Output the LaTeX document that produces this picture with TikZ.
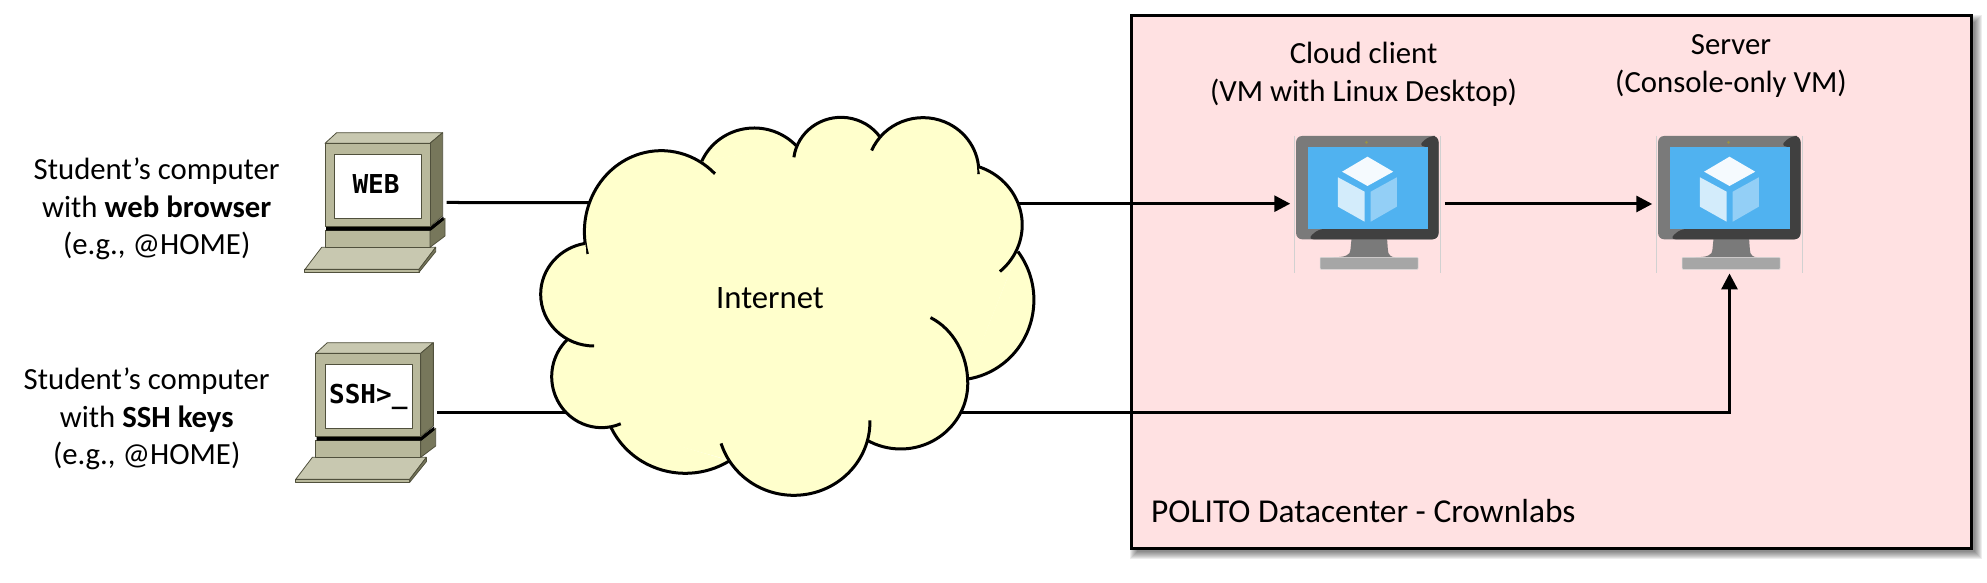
\documentclass[tikz,border=0pt]{standalone}
\usepackage{fontspec}
\setmainfont{Carlito}
\newfontfamily\pcfont{DejaVu Sans Mono}
\usetikzlibrary{
	arrows.meta,
	positioning
}
\definecolor{dcpink}{HTML}{FFE1E2}
\definecolor{cloudyellow}{HTML}{FFFFCC}
\definecolor{pcfront}{HTML}{B9B99C}
\definecolor{pctop}{HTML}{C8C8B0}
\definecolor{pcside}{HTML}{77775B}
\definecolor{pcline}{HTML}{50503C}
\definecolor{vmgrey}{HTML}{7A7A7A}
\definecolor{vmdark}{HTML}{404040}
\definecolor{vmblue}{HTML}{50B2F0}
\newcommand{\lobearc}[6]{\draw[lobe] (#1,#2) ++(#5:#3 and #4) arc[start angle=#5,end angle=#6,x radius=#3,y radius=#4];}

\begin{document}
\begin{tikzpicture}[
	x=.01cm, y=-.01cm,
	datacenter/.style = {
		rectangle,
		draw,
		line width=.03cm,
		fill=dcpink,
		minimum width=8.4cm,
		minimum height=5.33cm
	},
	computer/.style = {
		rectangle,
		inner sep=0pt,
		minimum width=1.42cm,
		minimum height=1.4cm
	},
	vmbox/.style = {
		rectangle,
		inner sep=0pt,
		minimum width=1.53cm,
		minimum height=1.374cm
	},
	label/.style = {
		align=center,
		inner sep=0pt,
		font=\fontsize{8.75}{10.7}\selectfont
	},
	screentext/.style = {
		anchor=base,
		inner sep=0pt,
		font=\pcfont\bfseries\fontsize{7.4}{9}\selectfont
	},
	link/.style = {
		line width=.03cm
	},
	linkarrow/.style = {
		link,
		-{Triangle[width=.16cm,length=.16cm]}
	},
	lobe/.style = {
		draw,
		fill=cloudyellow,
		line width=.03cm
	},
	pcpart/.style = {
		draw=pcline,
		line width=.008cm,
		line join=round
	},
	oldpc/.pic = {
		\begin{scope}[shift={(-95,-92.5)}, x=.01cm/3, y=-.01cm/3]
			% keyboard
			\fill[pcpart, fill=pctop] (75,478) -- (125,412) -- (467,412) -- (417,478) -- cycle;
			\fill[pcpart, fill=pcfront] (73,478) -- (417,478) -- (417,487) -- (73,487) -- cycle;
			\fill[pcpart, fill=pcside] (417,478) -- (467,412) -- (467,425) -- (417,487) -- cycle;
			% base
			\fill[pcpart, fill=pcfront] (135,362) rectangle (450,412);
			\fill[pcpart, fill=pcside] (450,362) -- (495,325) -- (495,378) -- (450,412) -- cycle;
			\fill[black] (138,350) -- (450,350) -- (490,320) -- (492,330) -- (452,362) -- (138,362) -- cycle;
			% monitor
			\fill[pcpart, fill=pctop] (135,100) -- (170,68) -- (488,68) -- (450,100) -- cycle;
			\fill[pcpart, fill=pcside] (450,100) -- (488,68) -- (488,318) -- (450,350) -- cycle;
			\fill[pcpart, fill=pcfront] (135,100) rectangle (450,350);
			\fill[pcpart, fill=white] (163,133) rectangle (425,325);
		\end{scope}
	},
	vmicon/.pic = {
		\draw[black!18, line width=.005cm] (-73.2,-68) -- (-73.2,68.7) (73.2,-68) -- (73.2,68.7);
		% stand
		\fill[vmgrey] (-16,35) -- (19.6,35) -- (20.4,46) .. controls (20.4,51) and (24,53.3) .. (27.5,53.3)
			-- (-35,53.3) .. controls (-22,53.3) and (-17.1,51) .. (-17.1,46) -- cycle;
		\fill[black!35, draw=black!15, line width=.005cm, rounded corners=.01cm] (-47.5,53.3) rectangle (50.7,65.3);
		% bezel
		\fill[vmgrey, rounded corners=.06cm] (-71.4,-68) rectangle (71,35.3);
		\fill[vmdark, rounded corners=.06cm] (61.4,-68) -- (71,-68) -- (71,35.3) -- (-60,35.3) -- (-49.3,25) -- (60.4,25) -- (60.4,-58) -- (50.7,-58) -- cycle;
		\fill[vmblue] (-60,-57.3) rectangle (60.4,25);
		\fill[black!10!yellow!60!black] (-1,-61.7) circle (.015cm);
		% cube
		\fill[white!90!vmblue!60!white] (0,-47.3) -- (25.7,-32.3) -- (0,-18) -- (-25.4,-32.3) -- cycle;
		\fill[white!75!vmblue] (-29.6,-26.7) -- (-2.9,-12.3) -- (-2.9,17.7) -- (-29.6,2.7) -- cycle;
		\fill[white!38!vmblue] (3.2,-12.3) -- (29.3,-26.7) -- (29.3,2.7) -- (3.2,17.7) -- cycle;
	}
]
	\useasboundingbox (0,0) rectangle (1987,583);

	\foreach \spread in {5,4,3,2,1,0,-1,-2}
		\fill[black, opacity=.07] (1135-\spread,20-\spread) rectangle (1977+\spread,554+\spread);
	\node (polito) [datacenter] at (1551.5,282) {};

	\node (vmclient) [vmbox] at (1367.5,204) {};
	\node (vmserver) [vmbox] at (1729.5,204) {};
	\pic at (vmclient.center) {vmicon};
	\pic at (vmserver.center) {vmicon};

	\node (pcweb) [computer] at (375,202.5) {};
	\node (pcssh) [computer] at (365.7,412.5) {};
	\pic at (pcweb.center) {oldpc};
	\pic at (pcssh.center) {oldpc};
	\node (webtext) [screentext] at (376,193.3) {WEB};
	\node (sshtext) [screentext] at (368.3,403.3) {SSH>\_};

	\coordinate (cloudwebin) at (640,202.7);
	\coordinate (cloudwebout) at (1000,203.7);
	\coordinate (cloudsshin) at (640,412.5);
	\coordinate (cloudsshout) at (900,412.5);

	\draw[link] (pcweb.east) -- (cloudwebin);
	\draw[link] (pcssh.east) -- (cloudsshin);
	\draw[linkarrow] (cloudwebout) -- (cloudwebout -| vmclient.west);
	\draw[linkarrow] (vmclient.east) -- (vmserver.west);
	\draw[linkarrow] (cloudsshout) -| (vmserver.south);

	\begin{scope}[shift={(520,100)}, x=.01cm/2.904, y=-.01cm/3]
		\fill[cloudyellow] (197,430) -- (527,183) -- (803,135) -- (1048,110) -- (1332,195) -- (1445,455)
			-- (1298,840) -- (1280,945) -- (1008,1017) -- (607,1080) -- (255,980) -- (133,717) -- cycle;
		\lobearc{410}{395}{223}{243}{164}{314.4}
		\lobearc{680}{250}{166}{166}{203.6}{317}
		\lobearc{932}{190}{138}{138}{187.5}{325.4}
		\lobearc{1170}{215}{162}{162}{203}{362.5}
		\lobearc{1270}{375}{188}{185}{-71}{49}
		\lobearc{1265}{600}{227}{240}{-37.3}{81.7}
		\draw[lobe] (1120,850) ++(-66.5:180 and 215) arc[start angle=-66.5,end angle=0,x radius=180,y radius=215]
			arc[start angle=0,end angle=120.4,x radius=195,y radius=197];
		\lobearc{795}{965}{221}{221}{-1}{162.8}
		\lobearc{480}{882}{238}{238}{57.3}{156.5}
		\lobearc{237}{830}{145}{153}{67.5}{226}
		\lobearc{215}{583}{155}{155}{90}{260.7}
	\end{scope}
	\node (internet) [label, font=\fontsize{9.3}{11}\selectfont] at (770,298) {Internet};

	\node (labelweb) [label] at (156.7,209) {Student’s computer\\with \textbf{web browser}\\(e.g., @HOME)};
	\node (labelssh) [label] at (146.7,419) {Student’s computer\\with \textbf{SSH keys}\\(e.g., @HOME)};
	\node (labelclient) [label] at (1363.6,74) {Cloud client\\(VM with Linux Desktop)};
	\node (labelserver) [label] at (1731,66) {Server\\(Console-only VM)};
	\node (labelpolito) [label, anchor=base west, font=\fontsize{9.5}{11}\selectfont] at (1150.5,523) {POLITO Datacenter - Crownlabs};
\end{tikzpicture}
\end{document}
